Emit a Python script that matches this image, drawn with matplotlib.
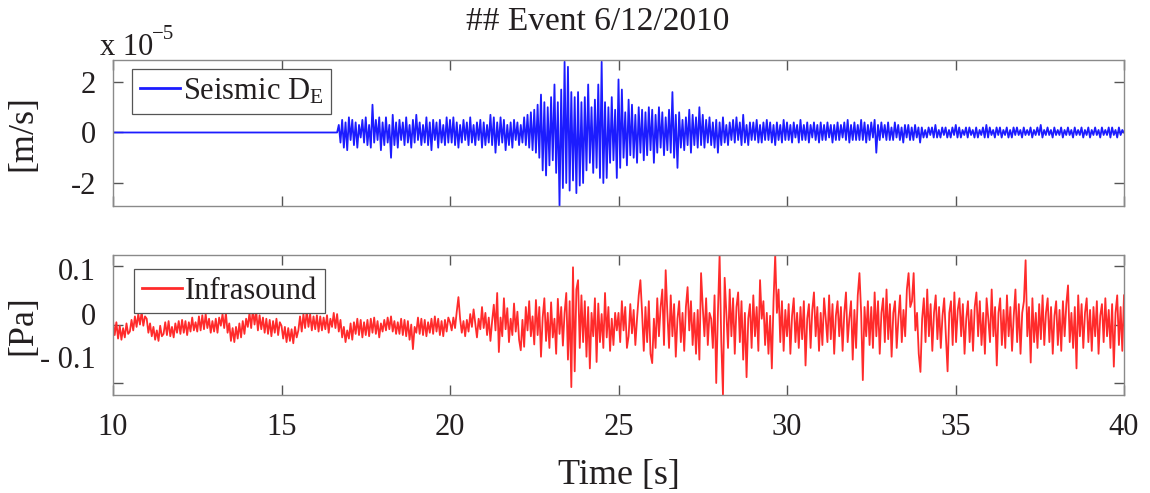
import numpy as np
import matplotlib
matplotlib.use("Agg")
import matplotlib.pyplot as plt

plt.rcParams['font.family'] = ['Liberation Serif', 'DejaVu Serif']
plt.rcParams['mathtext.fontset'] = 'custom'
plt.rcParams['mathtext.rm'] = 'Liberation Serif'
plt.rcParams['mathtext.it'] = 'Liberation Serif:italic'

# ---------------- data ----------------
title = "## Event 6/12/2010"
x_ticks = [10, 15, 20, 25, 30, 35, 40]
seis_ticks = [-2, 0, 2]
seis_tick_labels = ["-2", "0", "2"]
infra_ticks = [-0.1, 0.0, 0.1]
infra_tick_labels = ["- 0.1", "0", "0.1"]

# seismic velocity, units of 1e-6 m/s (0.1 x 1e-5), segments: (start s, end s, values)
seis_quiet = (10.0, 16.65, [0, 0])
seis_a = (16.65, 20.0, [0, 3, -4, 5, -6, 4, -7, 6, -3, 5, -5, 4, -6, 3, -2, 5, -4, 6, -5, 3,
                        -6, 11, -4, 5, -3, 6, -7, 4, -5, 6, -4, 3, -10, 7, -5, 4, -6, 5, -3, 4,
                        -5, 6, -4, 3, -6, 5, -4, 7, -3, 4, -5, 3, -4, 6, -5, 4, -7, 5, -3, 4,
                        -6, 5, -4, 3, -5, 6, -4])
seis_b = (20.0, 22.5, [5, -4, 6, -5, 4, -6, 3, -4, 5, -3, 4, -5, 6, -4, 3, -5, 4, -3, 5, -6,
                       4, -5, 3, -4, 7, -5, 6, -8, 4, -5, 6, -4, 5, -7, 3, -5, 4, -6, 5, -3,
                       4, -5, 3, -4, 6, -5, 7, -6, 8, -7])
seis_c = (22.5, 26.0, [9, -8, 11, -10, 15, -15, 12, -17, 10, -13, 14, -11, 19, -16, 12, -29, 17, -22, 28, -20,
                       26, -23, 16, -19, 14, -24, 16, -21, 12, -20, 14, -15, 19, -12, 10, -16, 13, -14, 19, -18,
                       28, -20, 12, -18, 10, -12, 14, -11, 9, -18, 21, -14, 17, -10, 8, -13, 13, -9, 11, -10,
                       7, -12, 10, -8, 9, -11, 8, -9, 10, -7])
seis_d = (26.0, 29.0, [9, -12, 7, -8, 10, -6, 8, -9, 6, -7, 9, -8, 16, -10, 7, -14, 8, -6, 5, -7,
                       6, -5, 9, -8, 7, -5, 6, -6, 10, -5, 7, -6, 5, -4, 6, -5, 4, -6, 5, -8,
                       4, -5, 6, -4, 3, -5, 4, -3, 5, -4, 6, -3, 4, -5, 7, -4, 3, -5, 4, -3])
seis_e = (29.0, 34.0, [4, -3, 5, -4, 3, -4, 4, -3, 5, -3, 4, -4, 3, -5, 4, -3, 3, -4, 5, -3,
                       4, -3, 3, -4, 4, -2, 3, -4, 5, -3, 3, -3, 4, -4, 3, -2, 4, -3, 3, -4,
                       4, -3, 3, -3, 4, -2, 3, -4, 3, -3, 4, -3, 3, -2, 4, -3, 5, -4, 3, -3,
                       4, -3, 3, -3, 5, -3, 4, -4, 3, -3, 4, -2, 5, -8, 3, -3, 4, -2, 3, -3,
                       4, -3, 2, -3, 4, -2, 3, -3, 2, -4, 3, -2, 3, -3, 2, -3, 3, -2, 2, -4])
seis_f = (34.0, 40.0, [2, -2, 1, -2, 2, -1, 2, -2, 3, -2, 1, -2, 2, -1, 2, -2, 1, -2, 2, -1,
                       3, -2, 2, -2, 1, -1, 2, -2, 2, -1, 1, -2, 2, -2, 1, -1, 2, -2, 3, -2,
                       2, -1, 1, -2, 2, -1, 2, -2, 1, -1, 2, -2, 1, -2, 2, -1, 2, -1, 1, -2,
                       2, -1, 1, -1, 2, -2, 1, -1, 2, -1, 3, -2, 1, -1, 2, -1, 1, -2, 2, -1,
                       1, -1, 2, -2, 1, -1, 2, -1, 1, -2, 2, -1, 1, -1, 2, -2, 1, -1, 2, -2,
                       1, -1, 2, -1, 1, -2, 2, -1, 1, -1, 2, -2, 2, -1, 1, -2, 2, -1, 1, 0])
seis_segments = [seis_quiet, seis_a, seis_b, seis_c, seis_d, seis_e, seis_f]

# infrasound pressure, units of mPa, segments: (start s, end s, values)
infra_a = (10.0, 20.0, [6, -18, 4, -24, -2, -26, -6, -22, 2, -16,
                        -12, 8, -10, 14, -4, 18, 0, 22, -2, 14,
                        10, -14, 2, -20, -4, -26, -10, -28, -2, -20,
                        -16, 4, -18, 6, -20, -4, -22, 2, -14, 6,
                        -16, 8, -14, 6, -18, 4, -12, 12, -10, 4,
                        -12, 14, -10, 16, -8, 18, -6, 10, -14, 6,
                        -12, 10, -14, 12, -2, 18, -6, 20, -14, 2,
                        -28, -6, -30, -4, -24, 2, -22, 6, -16, 10,
                        -4, 20, -6, 26, 0, 22, -10, 16, -8, 12,
                        -14, 10, -16, 8, -20, 6, -14, 10, -18, 4,
                        -2, -24, -4, -30, -6, -28, -8, -32, -4, -22,
                        -10, 14, -12, 18, -6, 24, -4, 18, -10, 14,
                        -8, 16, -12, 14, -10, 12, -8, 16, -14, 10,
                        -4, 20, -6, 18, -12, 8, -22, -4, -30, -10,
                        -24, 2, -26, 4, -16, 10, -18, 8, -22, 4,
                        -18, 8, -20, 10, -14, 12, -16, 6, -22, 2,
                        -12, 8, -10, 12, -8, 14, -12, 6, -16, 4,
                        -16, 10, -18, 8, -20, 6, -26, 0, -42, -4,
                        -14, 12, -16, 10, -18, 8, -20, 4, -14, 10,
                        -16, 14, -12, 10, -18, 6, -20, 8, -12, 12])
infra_b = (20.0, 25.0, [4, -10, 12, -6, 22, 47, 10, -14, 6, -20,
                        8, -12, 18, -4, 26, 2, -22, 10, -8, 30,
                        -6, 20, -18, 12, -28, 6, 34, -10, 54, -47,
                        12, -20, 45, -8, 28, -30, 10, -18, 36, -12,
                        22, -26, -44, 8, -38, 30, -10, 40, -20, 14,
                        -34, 42, -18, 30, -55, 12, 45, -28, 20, -40,
                        38, -22, 10, -50, 44, -16, 30, -36, 20, 54,
                        -60, 40, -107, 98, -80, 60, 76, -40, 50, -30,
                        40, -55, 30, -75, 20, -20, 45, -64, 36, -30,
                        18, -40, 54, -22, 30, -45, 10, -35, 20, -10])
infra_c = (25.0, 32.5, [20, -30, 40, -10, 30, -40, -20, 35, -15, 25,
                        -35, 10, 50, 76, 20, -45, 30, -30, 40, -50,
                        -66, 10, -40, 45, -20, 30, 60, -35, 93, 20,
                        -40, 50, -20, 35, -55, 10, 40, -30, 20, -45,
                        30, 64, -10, 40, -35, 20, -50, 25, -60, 88,
                        30, -20, 45, -35, 20, 10, -40, 50, -100, 20,
                        119, -30, -120, 80, 20, -40, 60, -20, 45, -50,
                        30, 55, -30, 40, -60, 20, -90, 10, 35, -40,
                        50, -20, 30, -45, 76, 10, 40, -35, 20, -50,
                        15, -75, 40, 119, 20, 60, -30, 40, -45, 25,
                        -20, 35, -50, 15, 45, -30, 20, -40, 30, -25,
                        40, -70, 10, 35, -40, 25, 55, -20, 30, -45,
                        20, -35, 45, 10, -30, 50, -25, 35, -50, 15,
                        40, -20, 30, -45, 20, 55, -30, 10, 40, -60,
                        25, -40, 50, 88, 20, -95, 30, -20, 40, -35])
infra_d = (32.5, 40.0, [30, -40, 55, -20, 40, -50, 20, 45, -30, 60,
                        -25, 35, -55, 20, 40, -40, 10, 50, -30, 25,
                        -20, 60, 88, 30, 40, 88, -10, 20, -50, -81,
                        10, 45, -30, 60, -20, 35, -45, 20, 50, -25,
                        30, -40, 15, 45, -20, -80, 20, 40, -35, 55,
                        -30, 25, 45, -20, 35, -50, 10, 40, -30, 25,
                        -45, 30, 55, -20, 40, -35, 20, -50, 45, 10,
                        -30, 60, -20, 30, -70, 20, 45, -35, 25, -40,
                        50, -20, 30, -45, 15, 60, -30, 35, -50, 20,
                        40, 110, -20, 30, -65, 45, -30, 20, -40, 35,
                        -25, 50, -35, 20, 45, -30, 30, -50, 15, 40,
                        -35, 25, -45, 40, -20, 35, 67, -30, 20, -40,
                        30, -75, 50, -20, 35, -40, 20, 45, -30, 25,
                        -45, 30, -20, 40, -50, 15, 35, -30, 45, -20,
                        25, -40, 35, -72, 20, 50, -35, 30, -45, 50])
infra_segments = [infra_a, infra_b, infra_c, infra_d]


def build(segments, scale):
    ts, vs = [], []
    for k, (t0, t1, vals) in enumerate(segments):
        n = len(vals)
        closed = (k == len(segments) - 1)
        t = np.linspace(t0, t1, n, endpoint=closed)
        ts.append(t)
        vs.append(np.asarray(vals, dtype=float) * scale)
    return np.concatenate(ts), np.concatenate(vs)


t_s, v_s = build(seis_segments, 1e-6)
t_i, v_i = build(infra_segments, 1e-3)

# ---------------- figure ----------------
W, H = 1150, 493
fig = plt.figure(figsize=(W / 100, H / 100), dpi=100)
txt = '#231f20'
frame = '#8a8a8a'


def px_axes(l, t, r, b):
    return fig.add_axes([l / W, 1 - b / H, (r - l) / W, (b - t) / H])


ax1 = px_axes(113, 60, 1124, 206)
ax2 = px_axes(113, 255, 1124, 395)

ax1.plot(t_s, v_s, color='#1c1cff', lw=1.3, label=r'Seismic D$_\mathregular{E}$')
ax2.plot(t_i, v_i, color='#ff2b2b', lw=1.3, label='Infrasound')

for ax in (ax1, ax2):
    ax.set_xlim(10, 40)
    ax.set_xticks(x_ticks)
    for s in ax.spines.values():
        s.set_color(frame)
        s.set_linewidth(1.0)
    ax.tick_params(direction='in', length=7, width=1.0, color='#555555',
                   top=True, right=True, labelsize=22, labelcolor=txt, pad=8)

ax1.set_ylim(-2.91e-5, 2.87e-5)
ax1.set_yticks([v * 1e-5 for v in seis_ticks])
ax1.set_yticklabels(seis_tick_labels)
ax1.set_xticklabels([])
ax1.tick_params(axis='y', pad=12)

ax2.set_ylim(-0.1205, 0.119)
ax2.set_yticks(infra_ticks)
ax2.set_yticklabels([])
ax2.set_xticklabels([str(v) for v in x_ticks])
ax2.tick_params(axis='x', pad=13)
# manual y labels (offset as in the reference)
trans = ax2.get_yaxis_transform()
for yv, lab in zip([0.0897, 0.0128, -0.0607], ["0.1", "0", "- 0.1"]):
    ax2.text(-17 / 1011, yv, lab, transform=trans, ha='right', va='center',
             fontsize=22, color=txt)

ax1.set_ylabel('[m/s]', fontsize=26, color=txt)
ax2.set_ylabel('[Pa]', fontsize=26, color=txt)
ax1.yaxis.set_label_coords(-0.073, 0.5)
ax2.yaxis.set_label_coords(-0.073, 0.5)
ax2.set_xlabel('Time [s]', fontsize=26, color=txt, labelpad=12)

fig.text(598 / W, 1 - 22 / H, title, ha='center', va='center', fontsize=24, color=txt)
fig.text(100 / W, 1 - 55 / H, 'x 10', ha='left', va='baseline', fontsize=22, color=txt)
fig.text(152 / W, 1 - 39 / H, '\u22125', ha='left', va='baseline', fontsize=15, color=txt)

for ax, anchor in ((ax1, (0.019, 0.938)), (ax2, (0.021, 0.9))):
    leg = ax.legend(loc='upper left', bbox_to_anchor=anchor, borderaxespad=0,
                    fancybox=False, framealpha=1, edgecolor='#555555',
                    fontsize=22, handlelength=1.3, handletextpad=0.1,
                    borderpad=0.25, labelcolor=txt)
    leg.get_frame().set_linewidth(0.9)
    for line in leg.get_lines():
        line.set_linewidth(2.0)

fig.savefig('out.png', dpi=100)
